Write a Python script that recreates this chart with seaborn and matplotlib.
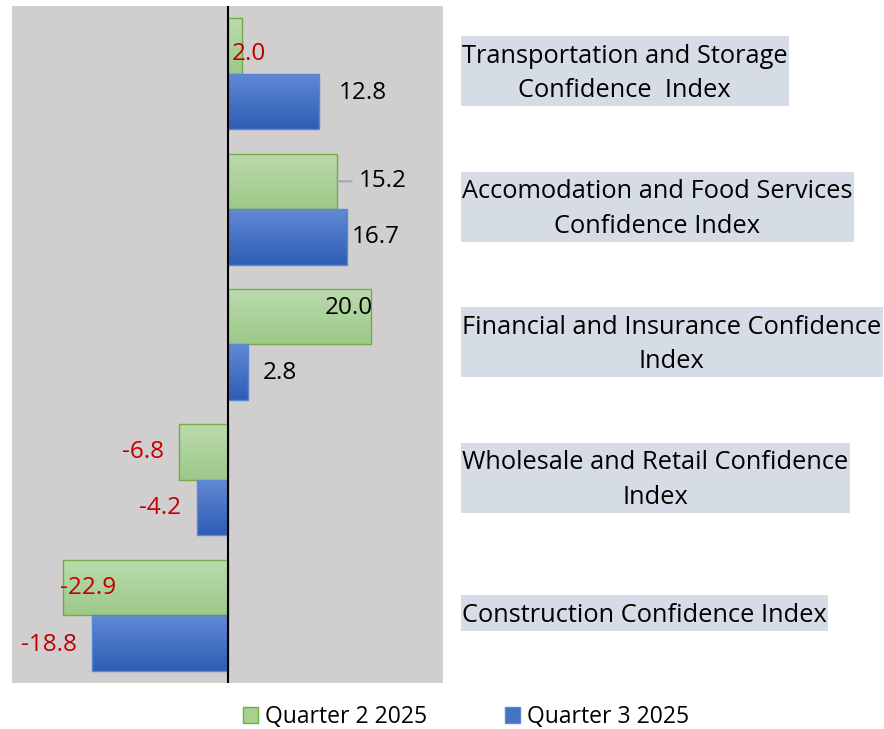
import numpy as np
import pandas as pd
import matplotlib
matplotlib.use("Agg")
import matplotlib.pyplot as plt
import matplotlib.transforms as mtransforms
from matplotlib.patches import Rectangle
import seaborn as sns

# ---- data -------------------------------------------------------------
categories = [
    "Transportation and Storage\nConfidence  Index",
    "Accomodation and Food Services\nConfidence Index",
    "Financial and Insurance Confidence\nIndex",
    "Wholesale and Retail Confidence\nIndex",
    "Construction Confidence Index",
]
quarters = ["Quarter 2 2025", "Quarter 3 2025"]
q2_values = [2.0, 15.2, 20.0, -6.8, -22.9]
q3_values = [12.8, 16.7, 2.8, -4.2, -18.8]

# ---- style ------------------------------------------------------------
plt.rcParams["font.family"] = ["Open Sans", "DejaVu Sans"]
GREEN, BLUE = "#A9D18E", "#4472C4"
RED, BLACK = "#C00000", "#000000"

df = pd.DataFrame({
    "Sector": categories * 2,
    "Quarter": [quarters[0]] * len(categories) + [quarters[1]] * len(categories),
    "Index": q2_values + q3_values,
})

fig = plt.figure(figsize=(8.84, 7.29), dpi=100)
ax = fig.add_axes([12 / 884, 46 / 729, 431 / 884, 677 / 729])
ax.set_facecolor("#D0CECE")

sns.barplot(data=df, x="Index", y="Sector", hue="Quarter", order=categories,
            hue_order=quarters, palette=[GREEN, BLUE], orient="h",
            width=0.82, gap=0, ax=ax, saturation=1)

# soft vertical gradient inside every bar
grad_cols = {
    0: ("#BBDAAE", "#9DC988", "#70AD47"),
    1: ("#6189D4", "#2E5DB5", "#5A86D6"),
}
for ci, cont in enumerate(ax.containers):
    top, bottom, edge = grad_cols[ci]
    cmap = matplotlib.colors.LinearSegmentedColormap.from_list("g", [top, bottom])
    grad = np.linspace(0, 1, 64).reshape(-1, 1)
    for bar in cont:
        x0 = min(0, bar.get_width())
        x1 = max(0, bar.get_width())
        y0 = bar.get_y()
        y1 = y0 + bar.get_height()
        bar.set_facecolor("none")
        bar.set_edgecolor(edge)
        bar.set_linewidth(1.0)
        bar.set_zorder(3)
        im = ax.imshow(grad, cmap=cmap, aspect="auto", extent=[x0, x1, y1, y0],
                       zorder=2, interpolation="bilinear")
        im.set_clip_path(bar)

ax.set_xlim(-30, 30)
ax.set_ylim(len(categories) - 0.5, -0.5)

ax.axvline(0, color="black", lw=1.5, zorder=4)

for s in ax.spines.values():
    s.set_visible(False)
ax.set_xticks([])
ax.set_yticks([])
ax.set_xlabel("")
ax.set_ylabel("")

# ---- value labels -----------------------------------------------------
q2_label_colors = [RED, BLACK, BLACK, RED, RED]
q3_label_colors = [BLACK, BLACK, BLACK, RED, RED]
q2_offsets = [(7, -8), (46, 0), (-22, 9), (-36, 0), (25, 0)]
q3_offsets = [(43, 8), (28, 0), (32, -1), (-37, 0), (-44, -2)]

for cont, vals, cols, offs in [
    (ax.containers[0], q2_values, q2_label_colors, q2_offsets),
    (ax.containers[1], q3_values, q3_label_colors, q3_offsets),
]:
    for bar, v, c, (dx, dy) in zip(cont, vals, cols, offs):
        yc = bar.get_y() + bar.get_height() / 2
        ax.annotate(f"{v:.1f}", xy=(v, yc), xytext=(dx, dy),
                    textcoords="offset pixels", ha="center", va="center",
                    fontsize=17.5, color=c, zorder=5)

# leader line for the Accomodation Q2 label
bar = ax.containers[0][1]
ax.annotate("", xy=(q2_values[1], bar.get_y() + bar.get_height() / 2),
            xytext=(15, 0), textcoords="offset pixels",
            arrowprops=dict(arrowstyle="-", color="#A6A6A6", lw=1.5,
                            shrinkA=0, shrinkB=0), zorder=5)

# ---- category labels on the right -----------------------------------
trans = mtransforms.blended_transform_factory(fig.transFigure, ax.transData)
cat_texts = []
for i, name in enumerate(categories):
    t = ax.text(462 / 884, i, name, transform=trans, ha="left", va="center",
                multialignment="center", fontsize=18.3, linespacing=1.5,
                color="black", clip_on=False, zorder=7)
    cat_texts.append(t)

# shaded boxes hugging each label
fig.canvas.draw()
renderer = fig.canvas.get_renderer()
W, H = fig.bbox.width, fig.bbox.height
for t in cat_texts:
    bb = t.get_window_extent(renderer)
    px, pad_top, pad_bot = 1.5, 7.5, 3.0
    ax.add_patch(Rectangle(((bb.x0 - px) / W, (bb.y0 - pad_bot) / H),
                           (bb.width + 2 * px) / W,
                           (bb.height + pad_top + pad_bot) / H,
                           transform=fig.transFigure, fc="#D6DCE5",
                           ec="none", zorder=6, clip_on=False))

# ---- legend -------------------------------------------------------------
sns.move_legend(ax, loc="center", bbox_to_anchor=(466 / 884, 12 / 729),
                bbox_transform=fig.transFigure, ncol=2, frameon=False,
                title=None, fontsize=16.5, handlelength=0.65,
                handleheight=0.65, handletextpad=0.3, columnspacing=3.4)
leg = ax.get_legend()
for h, ec in zip(leg.legend_handles, ["#70AD47", "#5A86D6"]):
    h.set_edgecolor(ec)
    h.set_linewidth(1.0)

fig.savefig("out.png", dpi=100)
